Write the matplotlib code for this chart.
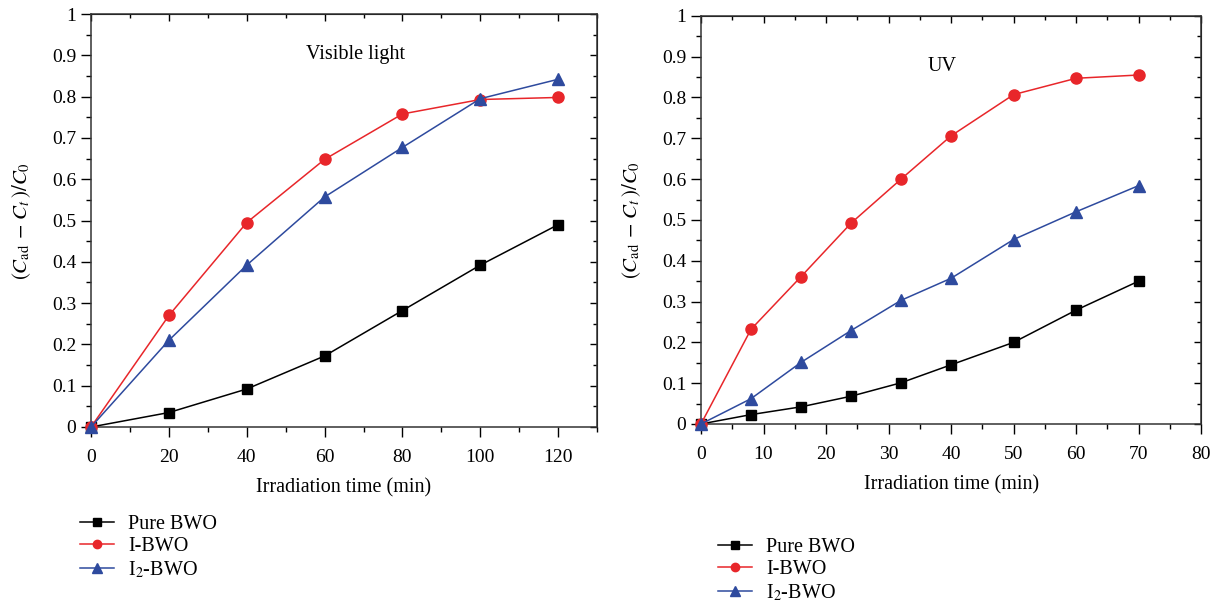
import matplotlib
matplotlib.use("Agg")
import matplotlib.pyplot as plt
from matplotlib.ticker import MultipleLocator, FuncFormatter

plt.rcParams['font.family'] = ['Liberation Serif', 'DejaVu Serif']
plt.rcParams['mathtext.fontset'] = 'stix'
plt.rcParams['font.size'] = 14

# Visible light data
t_vis = [0, 20, 40, 60, 80, 100, 120]
pure_vis = [0, 0.035, 0.092, 0.172, 0.282, 0.392, 0.49]
ibwo_vis = [0, 0.27, 0.495, 0.648, 0.758, 0.793, 0.798]
i2bwo_vis = [0, 0.21, 0.392, 0.557, 0.677, 0.795, 0.842]

# UV data
t_uv = [0, 8, 16, 24, 32, 40, 50, 60, 70]
pure_uv = [0, 0.023, 0.042, 0.068, 0.101, 0.145, 0.2, 0.279, 0.35]
ibwo_uv = [0, 0.232, 0.361, 0.492, 0.6, 0.706, 0.807, 0.847, 0.855]
i2bwo_uv = [0, 0.062, 0.151, 0.229, 0.303, 0.357, 0.452, 0.52, 0.584]

labels = ['Pure BWO', 'I-BWO', r'I$_2$-BWO']
colors = ['black', '#e8262a', '#2e4a9e']
markers = ['s', 'o', '^']
msizes = [7.5, 8, 9]
fmt = FuncFormatter(lambda v, p: '%g' % round(v, 2))

fig = plt.figure(figsize=(12.17, 6.02), dpi=100)
ax1 = fig.add_axes([0.0748, 0.2907, 0.4158, 0.686])
ax2 = fig.add_axes([0.576, 0.2957, 0.411, 0.678])


def draw(ax, t, series, xmax, xmaj, xmin, note, note_xy):
    for ys, c, m, ms, lab in zip(series, colors, markers, msizes, labels):
        ax.plot(t, ys, color=c, marker=m, markersize=ms, linewidth=1.1,
                label=lab, clip_on=False, zorder=3)
    ax.set_xlim(0, xmax)
    ax.set_ylim(0, 1)
    ax.xaxis.set_major_locator(MultipleLocator(xmaj))
    ax.xaxis.set_minor_locator(MultipleLocator(xmin))
    ax.yaxis.set_major_locator(MultipleLocator(0.1))
    ax.yaxis.set_minor_locator(MultipleLocator(0.05))
    ax.yaxis.set_major_formatter(fmt)
    ax.tick_params(which='major', direction='out', length=7, width=1.0, labelsize=14)
    ax.tick_params(which='minor', direction='out', length=3.5, width=1.0)
    ax.tick_params(axis='x', which='major', pad=9)
    # inward ticks on top and right
    top = ax.secondary_xaxis('top')
    top.xaxis.set_major_locator(MultipleLocator(xmaj))
    top.xaxis.set_minor_locator(MultipleLocator(xmin))
    top.tick_params(which='major', direction='in', length=5, width=1.0, labeltop=False)
    top.tick_params(which='minor', direction='in', length=3, width=1.0)
    right = ax.secondary_yaxis('right')
    right.yaxis.set_major_locator(MultipleLocator(0.1))
    right.yaxis.set_minor_locator(MultipleLocator(0.05))
    right.tick_params(which='major', direction='in', length=5, width=1.0, labelright=False)
    right.tick_params(which='minor', direction='in', length=3, width=1.0)
    for s in ax.spines.values():
        s.set_linewidth(1.1)
        s.set_color('#333333')
    ax.set_xlabel('Irradiation time (min)', fontsize=14.5, labelpad=9)
    ax.set_ylabel(r'$(C_{\mathrm{ad}}\,-\,C_t\,)/C_0$', fontsize=15, labelpad=14)
    ax.text(note_xy[0], note_xy[1], note, fontsize=14.5, ha='center', va='center')


draw(ax1, t_vis, [pure_vis, ibwo_vis, i2bwo_vis], 130, 20, 10,
     'Visible light', (68, 0.903))
draw(ax2, t_uv, [pure_uv, ibwo_uv, i2bwo_uv], 80, 10, 5,
     'UV', (38.5, 0.877))

leg_kw = dict(loc='upper left', frameon=False, fontsize=14.5, handlelength=1.7,
              handletextpad=0.7, labelspacing=0.15, borderpad=0, borderaxespad=0,
              markerscale=0.75)
h, l = ax1.get_legend_handles_labels()
fig.legend(h, l, bbox_to_anchor=(80 / 1217, 1 - 515 / 602), **leg_kw)
fig.legend(h, l, bbox_to_anchor=(718 / 1217, 1 - 538 / 602), **leg_kw)

fig.savefig('out.png', dpi=100)
